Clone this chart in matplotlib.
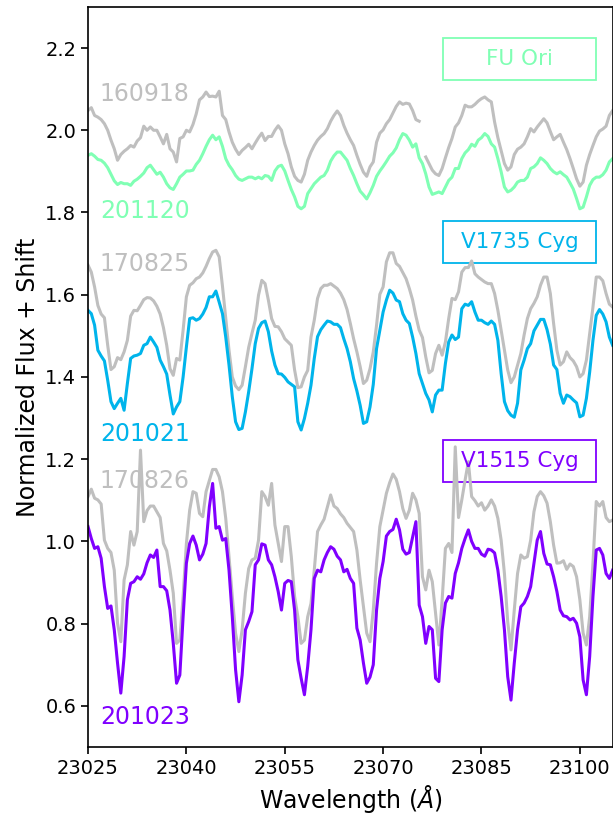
import numpy as np
import matplotlib
matplotlib.use("Agg")
import matplotlib.pyplot as plt
from matplotlib.patches import Rectangle

# ---------- DATA ----------
wave = np.linspace(23025, 23105, 161)

fu_ori_160918 = [
    2.048, 2.055, 2.036, 2.032, 2.026, 2.016, 2.000, 1.976, 1.955, 1.927,
    1.941, 1.949, 1.955, 1.963, 1.959, 1.974, 1.982, 2.010, 2.000, 2.008,
    2.000, 2.000, 1.984, 1.967, 1.990, 1.955, 1.947, 1.923, 1.980, 1.984,
    2.000, 1.996, 2.014, 2.040, 2.074, 2.081, 2.093, 2.082, 2.083, 2.081,
    2.095, 2.036, 2.026, 1.996, 1.971, 1.954, 1.941, 1.951, 1.958, 1.966,
    1.955, 1.969, 1.982, 1.993, 1.975, 1.985, 1.985, 2.000, 2.011, 2.000,
    1.967, 1.943, 1.911, 1.888, 1.878, 1.874, 1.893, 1.927, 1.947, 1.963,
    1.976, 1.985, 1.992, 2.004, 2.022, 2.036, 2.047, 2.036, 2.012, 1.993,
    1.977, 1.963, 1.939, 1.917, 1.898, 1.888, 1.911, 1.923, 1.971, 1.993,
    2.001, 2.016, 2.026, 2.042, 2.058, 2.069, 2.063, 2.066, 2.064, 2.048,
    2.026, 2.022, np.nan, 1.935, 1.919, 1.903, 1.894, 1.890, 1.907, 1.933,
    1.958, 1.980, 2.008, 2.018, 2.036, 2.061, 2.057, 2.057, 2.063, 2.071,
    2.077, 2.081, 2.074, 2.069, 2.020, 1.982, 1.950, 1.919, 1.903, 1.911,
    1.941, 1.954, 1.959, 1.967, 1.984, 2.004, 1.996, 2.008, 2.018, 2.028,
    2.018, 1.997, 1.977, 1.984, 1.990, 1.971, 1.953, 1.931, 1.907, 1.882,
    1.864, 1.874, 1.915, 1.941, 1.963, 1.984, 1.998, 2.003, 2.010, 2.036, 2.048,
]
fu_ori_201120 = [
    1.939, 1.943, 1.937, 1.929, 1.927, 1.920, 1.909, 1.893, 1.877, 1.868,
    1.873, 1.870, 1.870, 1.866, 1.876, 1.881, 1.888, 1.896, 1.909, 1.915,
    1.904, 1.893, 1.898, 1.886, 1.870, 1.860, 1.856, 1.870, 1.886, 1.893,
    1.901, 1.901, 1.903, 1.917, 1.927, 1.943, 1.961, 1.977, 1.988, 1.977,
    1.984, 1.961, 1.931, 1.915, 1.904, 1.890, 1.881, 1.878, 1.882, 1.886,
    1.886, 1.882, 1.886, 1.882, 1.890, 1.888, 1.878, 1.901, 1.912, 1.915,
    1.901, 1.878, 1.856, 1.838, 1.815, 1.809, 1.815, 1.846, 1.858, 1.870,
    1.878, 1.886, 1.890, 1.903, 1.925, 1.938, 1.947, 1.947, 1.937, 1.927,
    1.907, 1.890, 1.870, 1.852, 1.843, 1.833, 1.848, 1.866, 1.888, 1.901,
    1.912, 1.924, 1.937, 1.945, 1.957, 1.977, 1.992, 1.988, 1.976, 1.959,
    1.967, 1.933, 1.919, 1.894, 1.862, 1.844, 1.847, 1.850, 1.846, 1.862,
    1.878, 1.886, 1.907, 1.907, 1.931, 1.945, 1.953, 1.966, 1.961, 1.976,
    1.982, 1.992, 1.985, 1.967, 1.959, 1.931, 1.899, 1.862, 1.850, 1.854,
    1.862, 1.874, 1.878, 1.878, 1.886, 1.907, 1.911, 1.919, 1.933, 1.927,
    1.919, 1.907, 1.899, 1.894, 1.899, 1.892, 1.886, 1.872, 1.857, 1.834,
    1.809, 1.813, 1.838, 1.866, 1.880, 1.886, 1.886, 1.892, 1.903, 1.923, 1.931,
]
v1735_170825 = [
    1.672, 1.655, 1.619, 1.574, 1.553, 1.544, 1.477, 1.418, 1.425, 1.447,
    1.442, 1.461, 1.489, 1.548, 1.562, 1.561, 1.574, 1.588, 1.593, 1.592,
    1.585, 1.572, 1.553, 1.520, 1.477, 1.420, 1.404, 1.445, 1.441, 1.514,
    1.595, 1.623, 1.629, 1.639, 1.643, 1.653, 1.669, 1.688, 1.704, 1.708,
    1.692, 1.621, 1.542, 1.465, 1.400, 1.378, 1.369, 1.380, 1.425, 1.472,
    1.506, 1.538, 1.599, 1.635, 1.627, 1.587, 1.542, 1.523, 1.522, 1.510,
    1.493, 1.485, 1.477, 1.417, 1.374, 1.376, 1.400, 1.416, 1.497, 1.538,
    1.591, 1.615, 1.623, 1.623, 1.627, 1.621, 1.615, 1.604, 1.588, 1.564,
    1.530, 1.493, 1.461, 1.425, 1.384, 1.392, 1.420, 1.461, 1.526, 1.601,
    1.619, 1.680, 1.702, 1.702, 1.676, 1.669, 1.654, 1.639, 1.615, 1.587,
    1.548, 1.514, 1.496, 1.449, 1.410, 1.416, 1.457, 1.477, 1.453, 1.485,
    1.542, 1.591, 1.588, 1.607, 1.655, 1.666, 1.666, 1.682, 1.651, 1.643,
    1.637, 1.631, 1.627, 1.627, 1.603, 1.562, 1.514, 1.465, 1.417, 1.386,
    1.400, 1.429, 1.457, 1.502, 1.542, 1.566, 1.579, 1.595, 1.623, 1.643,
    1.643, 1.603, 1.530, 1.465, 1.429, 1.437, 1.461, 1.447, 1.439, 1.425,
    1.400, 1.408, 1.441, 1.506, 1.570, 1.643, 1.643, 1.634, 1.603, 1.577, 1.570,
]
v1735_201021 = [
    1.562, 1.554, 1.526, 1.465, 1.451, 1.439, 1.392, 1.340, 1.323, 1.336,
    1.348, 1.319, 1.384, 1.445, 1.451, 1.453, 1.457, 1.477, 1.481, 1.497,
    1.485, 1.472, 1.441, 1.425, 1.407, 1.356, 1.310, 1.327, 1.340, 1.400,
    1.473, 1.542, 1.544, 1.538, 1.542, 1.553, 1.569, 1.595, 1.595, 1.609,
    1.582, 1.554, 1.497, 1.429, 1.352, 1.291, 1.272, 1.275, 1.315, 1.364,
    1.420, 1.481, 1.518, 1.532, 1.536, 1.510, 1.463, 1.429, 1.408, 1.407,
    1.399, 1.388, 1.382, 1.376, 1.291, 1.271, 1.299, 1.336, 1.380, 1.445,
    1.498, 1.515, 1.526, 1.536, 1.534, 1.528, 1.528, 1.520, 1.493, 1.469,
    1.437, 1.396, 1.366, 1.331, 1.287, 1.291, 1.327, 1.382, 1.469, 1.514,
    1.558, 1.587, 1.611, 1.604, 1.587, 1.583, 1.554, 1.538, 1.530, 1.497,
    1.457, 1.408, 1.384, 1.360, 1.344, 1.315, 1.356, 1.368, 1.368, 1.433,
    1.485, 1.502, 1.491, 1.497, 1.566, 1.577, 1.574, 1.583, 1.558, 1.538,
    1.538, 1.532, 1.528, 1.536, 1.528, 1.489, 1.408, 1.340, 1.318, 1.307,
    1.302, 1.336, 1.417, 1.441, 1.469, 1.481, 1.512, 1.526, 1.540, 1.540,
    1.515, 1.480, 1.429, 1.418, 1.360, 1.336, 1.356, 1.352, 1.344, 1.337,
    1.303, 1.307, 1.348, 1.412, 1.489, 1.550, 1.564, 1.553, 1.534, 1.497, 1.477,
]
v1515_170826 = [
    1.109, 1.127, 1.105, 1.101, 1.091, 1.003, 0.983, 0.973, 0.930, 0.801,
    0.756, 0.906, 0.943, 1.024, 0.991, 1.024, 1.222, 1.048, 1.075, 1.086,
    1.086, 1.072, 1.058, 0.995, 0.977, 0.930, 0.874, 0.752, 0.760, 0.866,
    0.995, 1.076, 1.121, 1.117, 1.068, 1.060, 1.121, 1.148, 1.175, 1.175,
    1.157, 1.121, 1.056, 0.963, 0.866, 0.777, 0.732, 0.785, 0.874, 0.934,
    0.955, 0.959, 1.003, 1.121, 1.109, 1.088, 1.141, 1.040, 0.995, 0.951,
    1.036, 1.036, 0.963, 0.866, 0.817, 0.752, 0.760, 0.817, 0.849, 0.930,
    1.024, 1.040, 1.054, 1.084, 1.113, 1.086, 1.080, 1.067, 1.058, 1.044,
    1.034, 1.024, 0.979, 0.906, 0.841, 0.777, 0.756, 0.833, 0.947, 1.036,
    1.076, 1.117, 1.143, 1.164, 1.151, 1.121, 1.080, 1.056, 1.076, 1.117,
    1.101, 1.068, 0.914, 0.882, 0.930, 0.902, 0.825, 0.748, 0.858, 0.983,
    0.995, 0.973, 1.230, 1.058, 1.101, 1.149, 1.194, 1.109, 1.099, 1.086,
    1.094, 1.076, 1.086, 1.101, 1.086, 1.056, 1.003, 0.922, 0.805, 0.736,
    0.833, 0.922, 0.967, 0.959, 0.963, 1.003, 1.072, 1.109, 1.121, 1.111,
    1.093, 1.048, 0.991, 0.947, 0.948, 0.953, 0.932, 0.945, 0.939, 0.914,
    0.858, 0.777, 0.748, 0.817, 0.947, 1.097, 1.086, 1.097, 1.058, 1.048, 1.052,
]
v1515_201023 = [
    1.036, 1.007, 0.983, 0.987, 0.959, 0.890, 0.837, 0.843, 0.785, 0.704,
    0.631, 0.720, 0.858, 0.898, 0.902, 0.914, 0.908, 0.921, 0.948, 0.967,
    0.961, 0.979, 0.890, 0.890, 0.880, 0.833, 0.752, 0.655, 0.675, 0.817,
    0.947, 0.995, 1.013, 0.991, 0.955, 0.969, 0.995, 1.084, 1.141, 1.032,
    1.036, 1.003, 1.007, 0.930, 0.817, 0.688, 0.610, 0.675, 0.785, 0.805,
    0.829, 0.943, 0.955, 0.994, 0.991, 0.955, 0.943, 0.914, 0.878, 0.833,
    0.898, 0.905, 0.902, 0.833, 0.712, 0.667, 0.627, 0.696, 0.785, 0.910,
    0.930, 0.926, 0.955, 0.973, 0.987, 0.981, 0.964, 0.955, 0.926, 0.932,
    0.910, 0.898, 0.789, 0.760, 0.704, 0.655, 0.670, 0.700, 0.833, 0.910,
    0.951, 1.013, 1.024, 1.029, 1.054, 1.028, 0.981, 0.969, 0.973, 1.011,
    1.048, 0.845, 0.817, 0.752, 0.793, 0.785, 0.667, 0.659, 0.785, 0.850,
    0.866, 0.862, 0.922, 0.948, 0.983, 1.007, 1.028, 1.000, 0.983, 0.983,
    0.969, 0.964, 0.981, 0.979, 0.972, 0.930, 0.866, 0.785, 0.671, 0.614,
    0.704, 0.785, 0.841, 0.850, 0.866, 0.890, 0.947, 1.003, 1.024, 0.971,
    0.945, 0.943, 0.914, 0.878, 0.833, 0.819, 0.817, 0.809, 0.813, 0.801,
    0.768, 0.663, 0.627, 0.720, 0.866, 0.979, 0.983, 0.967, 0.922, 0.910, 0.930,
]

targets = ["FU Ori", "V1735 Cyg", "V1515 Cyg"]
old_epochs = ["160918", "170825", "170826"]
new_epochs = ["201120", "201021", "201023"]
old_spectra = [fu_ori_160918, v1735_170825, v1515_170826]
new_spectra = [fu_ori_201120, v1735_201021, v1515_201023]

# label positions (data units) for the epoch tags
old_label_y = [2.088, 1.674, 1.146]
new_label_y = [1.803, 1.261, 0.572]
box_center_y = [0.9297, 0.6824, 0.3865]   # axes fraction

colors = ["#80ffb4", "#00b4eb", "#8000ff"]
gray = "#bfbfbf"

# ---------- PLOT ----------
fig = plt.figure(figsize=(6.13, 8.16), dpi=100)
ax = fig.add_axes([0.1436, 0.0846, 0.8558, 0.9069])

for i in range(3):
    ax.plot(wave, old_spectra[i], color=gray, lw=2.2)
    ax.plot(wave, new_spectra[i], color=colors[i], lw=2.2)
    ax.text(23026.8, old_label_y[i], old_epochs[i], color=gray,
            fontsize=17, va="center", ha="left")
    ax.text(23026.8, new_label_y[i], new_epochs[i], color=colors[i],
            fontsize=17, va="center", ha="left")

    # name tag in a fixed-size frame
    ax.add_patch(Rectangle((0.6767, box_center_y[i] - 0.0284), 0.2917, 0.0568,
                           transform=ax.transAxes, fill=False,
                           edgecolor=colors[i], lw=1.3, zorder=1))
    ax.text(0.8225, box_center_y[i], targets[i], transform=ax.transAxes,
            color=colors[i], fontsize=15.5, ha="center", va="center")

ax.set_xlim(23025, 23105)
ax.set_ylim(0.5, 2.3)
ax.set_xticks([23025, 23040, 23055, 23070, 23085, 23100])
ax.set_yticks([0.6, 0.8, 1.0, 1.2, 1.4, 1.6, 1.8, 2.0, 2.2])
ax.tick_params(labelsize=14, width=1.2, length=5)
for s in ax.spines.values():
    s.set_linewidth(1.2)

ax.set_xlabel(r"Wavelength ($\AA$)", fontsize=17, labelpad=4)
ax.set_ylabel("Normalized Flux + Shift", fontsize=17)

fig.savefig("out.png", dpi=100)
